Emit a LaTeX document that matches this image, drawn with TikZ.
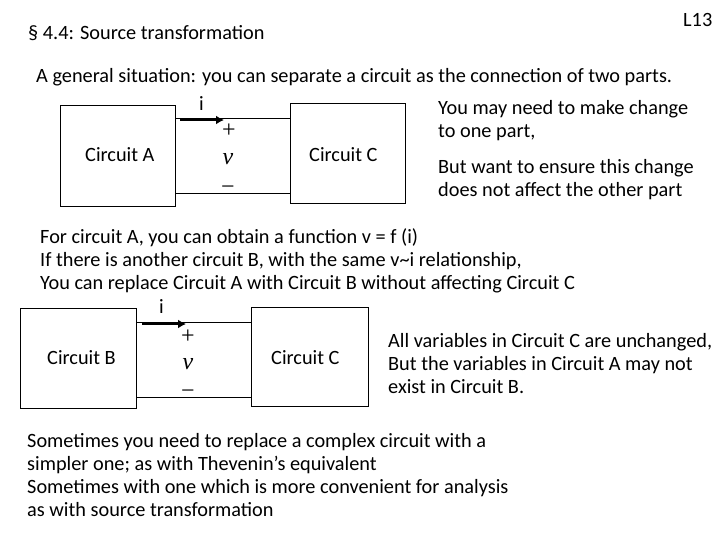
\documentclass[tikz,border=0pt]{standalone}
\usepackage{fontspec}
\usetikzlibrary{arrows.meta}
\setmainfont{Carlito}
\newfontfamily\tnr{Liberation Serif}
\begin{document}
\begin{tikzpicture}[x=1pt,y=-1pt,
  txt/.style={anchor=west,inner sep=0pt,font=\fontsize{20.3}{23}\selectfont,align=left},
  box/.style={draw,line width=0.8pt,minimum width=#1,anchor=north west,inner sep=0pt},
  wire/.style={line width=0.8pt},
  cur/.style={line width=2.4pt,-{Latex[length=8pt,width=9pt]}},
  sym/.style={inner sep=0pt,text height=10pt,text depth=0pt,font=\tnr\fontsize{24}{24}\selectfont}]
\useasboundingbox (0,0) rectangle (720,540);
\node[txt] (title) at (28,33) {§ 4.4:  Source  transformation};
\node[txt] (l13) at (683,20) {L13};
\node[txt] (gen) at (36,77) {A general situation: you can separate a circuit as the connection of two parts.};
% top circuit
\node[box=115pt,minimum height=101pt] (A) at (60,105) {};
\node[txt] at (85,155) {Circuit A};
\node[box=115pt,minimum height=100pt] (C1) at (290,103) {};
\node[txt] at (309,155) {Circuit C};
\coordinate (a1) at (175,118); \coordinate (c1) at (290,118);
\coordinate (a2) at (175,193); \coordinate (c2) at (290,193);
\draw[wire] (a1) -- (c1); \draw[wire] (a2) -- (c2);
\coordinate (s1) at (180,120); \coordinate (e1) at (224,120);
\draw[cur] (s1) -- (e1);
\node[txt] (i1) at (199,104) {i};
\node[sym] (p1) at (229,133) {+};
\node[sym] (v1) at (228,160) {\itshape v};
\node[sym] (m1) at (228,190) {−};
\node[txt] (t1) at (438,121) {You may need to make change\\to one part,};
\node[txt] (t2) at (438,180) {But want to ensure this change\\does not affect the other part};
\node[txt] (t3) at (40,261) {For circuit A, you can obtain a function v = f (i)\\If there is another circuit B, with the same v\string~i relationship,\\You can replace Circuit A with Circuit B without affecting Circuit C};
% bottom circuit
\node[box=116pt,minimum height=100pt] (B) at (20,308) {};
\node[txt] at (47,358) {Circuit B};
\node[box=117pt,minimum height=99pt] (C2) at (251,307) {};
\node[txt] at (271,358) {Circuit C};
\coordinate (b1) at (136,322); \coordinate (d1) at (251,322);
\coordinate (b2) at (136,397); \coordinate (d2) at (251,397);
\draw[wire] (b1) -- (d1); \draw[wire] (b2) -- (d2);
\coordinate (s2) at (142,324); \coordinate (e2) at (186,324);
\draw[cur] (s2) -- (e2);
\node[txt] (i2) at (159,307) {i};
\node[sym] (p2) at (188,338) {+};
\node[sym] (v2) at (188,364) {\itshape v};
\node[sym] (m2) at (188,393) {−};
\node[txt] (t4) at (388,364) {All variables in Circuit C are unchanged,\\But the variables in Circuit A may not\\exist in Circuit B.};
\node[txt] (t5) at (27,475) {Sometimes you need to replace a complex circuit with a\\simpler  one; as with Thevenin’s equivalent\\Sometimes with one which is more convenient for analysis\\as with source transformation};
\end{tikzpicture}
\end{document}
